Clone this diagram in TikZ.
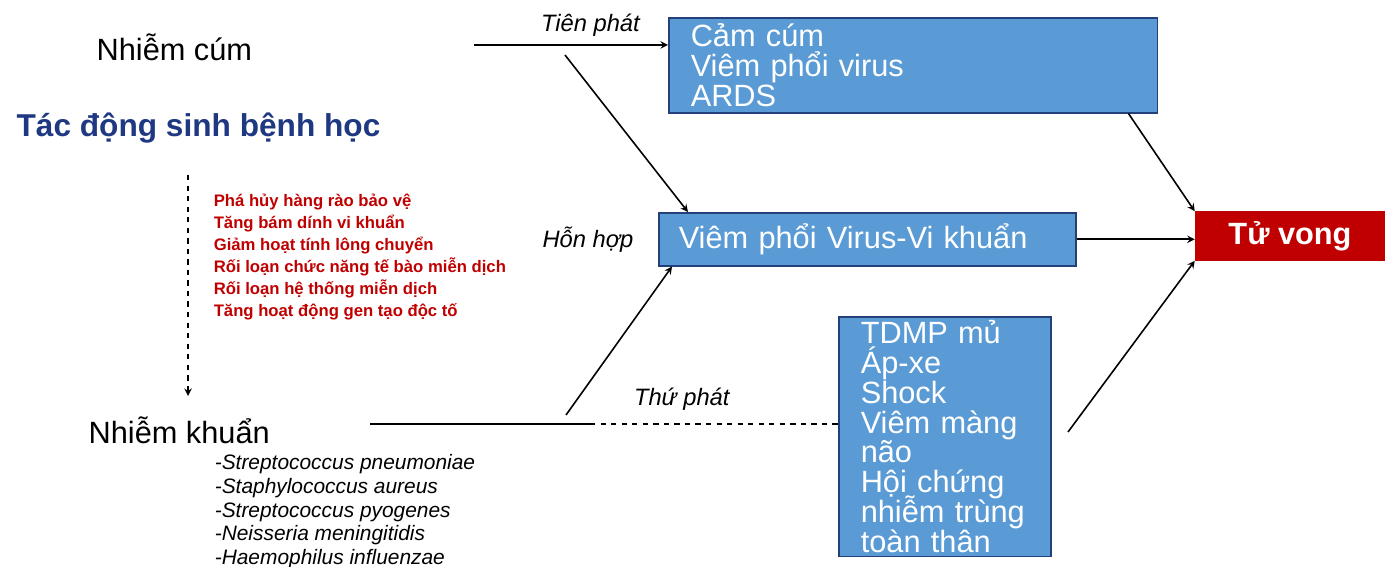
\documentclass[tikz,border=0pt]{standalone}
\usepackage{fontspec}
\setmainfont{Liberation Sans}
\usetikzlibrary{positioning}
\definecolor{boxblue}{RGB}{91,155,213}
\definecolor{boxedge}{RGB}{36,64,122}
\definecolor{deathred}{RGB}{192,0,0}
\definecolor{navy}{RGB}{31,56,130}
\newcommand{\tightlines}{\lineskiplimit=-10pt\relax}
\tikzset{every picture/.style={line width=0.9pt}}

\begin{document}
\begin{tikzpicture}[x=0.02cm, y=-0.02cm, >=stealth,
        big/.style={font={\fontsize{17.5}{17}\selectfont\tightlines}},
        lbl/.style={font=\fontsize{13.5}{14}\selectfont\itshape},
        bluebox/.style={draw=boxedge, fill=boxblue, text=white, align=left, big, inner ysep=2pt}]
        \useasboundingbox (0,0) rectangle (1387,567);
        % left column
        \node[big, anchor=west] (cum) at (90,47) {Nhiễm cúm};
        \node[anchor=west, text=navy, font=\fontsize{18}{20}\selectfont\bfseries] (tacdong) at (10,128) {Tác động sinh bệnh học};
        \node[big, anchor=west] (khuan) at (82,430) {Nhiễm khuẩn};
        \node[anchor=north west, align=left, text=deathred, inner sep=0pt,
              font=\fontsize{9.5}{12.5}\selectfont\bfseries] (coche) at (213,193)
              {Phá hủy hàng rào bảo vệ\\Tăng bám dính vi khuẩn\\Giảm hoạt tính lông chuyển\\Rối loạn chức năng tế bào miễn dịch\\Rối loạn hệ thống miễn dịch\\Tăng hoạt động gen tạo độc tố};
        \node[anchor=north west, align=left, inner sep=0pt,
              font=\fontsize{11.9}{13.4}\selectfont\itshape] (loai) at (214,454)
              {-Streptococcus pneumoniae\\-Staphylococcus aureus\\-Streptococcus pyogenes\\-Neisseria meningitidis\\-Haemophilus influenzae};
        % boxes
        \node[bluebox, anchor=north west, text width=8.9cm, inner xsep=0.44cm, minimum height=1.9cm] (capcum) at (668,17)
              {Cảm cúm\\Viêm phổi virus\\ARDS};
        \node[bluebox, anchor=north west, text width=7.54cm, inner xsep=0.4cm, minimum height=1.06cm] (honhop) at (658,212)
              {Viêm phổi Virus-Vi khuẩn};
        \node[bluebox, anchor=north west, text width=3.36cm, inner xsep=0.44cm, inner ysep=2pt] (thuphat) at (838,316)
              {TDMP mủ\\Áp-xe\\Shock\\Viêm màng\\não\\Hội chứng\\nhiễm trùng\\toàn thân};
        \node[draw=deathred, fill=deathred, text=white, font=\fontsize{17.5}{17}\selectfont\bfseries,
              minimum width=3.78cm, minimum height=0.96cm] (tuvong) at (1290,236) {Tử vong};
        \node[lbl, left=0.36cm of honhop] (hh) {Hỗn hợp};
        % free ends
        \coordinate (tien) at (474,45);
        \coordinate (a1) at (565,55);
        \coordinate (khstart) at (370,424);
        \coordinate (kmid) at (590,424);
        \coordinate (b0) at (566,415);
        \coordinate (b1) at (1068,432);
        \coordinate (d0) at (188,175);
        \coordinate (d1) at (188,396);
        % connectors
        \draw[->] (tien) -- node[lbl, above=1pt, pos=0.6] {Tiên phát} (tien -| capcum.west);
        \draw[->] (a1) -- ([xshift=0.6cm]honhop.north west);
        \draw (khstart) -- (kmid);
        \draw[dashed] (kmid) -- node[lbl, above=4pt, pos=0.37] {Thứ phát} (kmid -| thuphat.west);
        \draw[->] (b0) -- ([xshift=0.28cm]honhop.south west);
        \draw[->] (honhop.east) -- (honhop.east -| tuvong.west);
        \draw[->] ([xshift=-0.6cm]capcum.south east) -- (tuvong.north west);
        \draw[->] (b1) -- (tuvong.south west);
        \draw[dashed, ->] (d0) -- (d1);
    \end{tikzpicture}
\end{document}
